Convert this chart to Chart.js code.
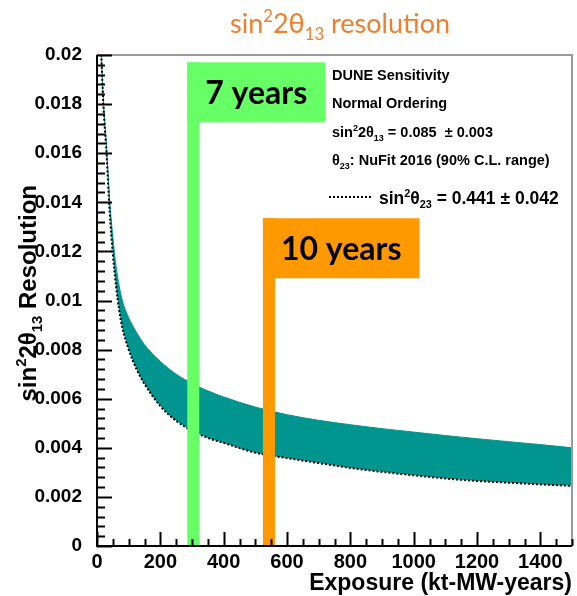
<!DOCTYPE html>
<html>
<head>
<meta charset="utf-8">
<script src="https://cdn.jsdelivr.net/npm/chart.js@4/dist/chart.umd.min.js"></script>
<style>
  html, body { margin: 0; padding: 0; background: #fff; }
  #wrap { width: 577px; height: 596px; }
</style>
</head>
<body>
<div id="wrap"><canvas id="c" width="577" height="596"></canvas></div>
<script>
// Exposure grid (kt-MW-years)
const exposure = [12, 20, 30, 40, 50, 60, 70, 80, 100, 125, 150, 200, 250, 300, 350, 400,
                  500, 600, 700, 800, 900, 1000, 1100, 1200, 1300, 1400, 1500];
// sin^2 2theta13 resolution, lower edge of the theta23 band (dotted curve)
const resLower = [0.0205, 0.0180, 0.0160, 0.0136, 0.0119, 0.0106, 0.0096, 0.0089, 0.0080, 0.0072, 0.0066,
                  0.0057, 0.0051, 0.0047, 0.0044, 0.0042, 0.0038, 0.00358, 0.00338, 0.00318, 0.00302,
                  0.00288, 0.00275, 0.00265, 0.00258, 0.00251, 0.00245];
// upper edge of the band
const resUpper = [0.0205, 0.0182, 0.0163, 0.0141, 0.0126, 0.0114, 0.0106, 0.0100, 0.0093, 0.0087, 0.0082,
                  0.00752, 0.0070, 0.00662, 0.00632, 0.00607, 0.00566, 0.00535, 0.00512, 0.00494, 0.00478,
                  0.00464, 0.0045, 0.00437, 0.00425, 0.00413, 0.0040];

// Run-time markers
const markerLabels   = ['7 years', '10 years'];
const markerExposure = [304, 543];
const markerFlagTop  = [0.0197, 0.01335];
const markerColors   = ['#66ff66', '#ff9900'];

// Legend text lines
const legendLines = [
  [{t: 'DUNE Sensitivity'}],
  [{t: 'Normal Ordering'}],
  [{t: 'sin'}, {t: '2', sup: true}, {t: '2θ'}, {t: '13', sub: true}, {t: ' = 0.085  ± 0.003'}],
  [{t: 'θ'}, {t: '23', sub: true}, {t: ': NuFit 2016 (90% C.L. range)'}]
];
const legendBand = [{t: 'sin'}, {t: '2', sup: true}, {t: 'θ'}, {t: '23', sub: true}, {t: ' = 0.441 ± 0.042'}];

const AXIS_FONT = 'Liberation Sans, Arial, sans-serif';
const FLAG_FONT = 'Lato, "Open Sans", sans-serif';
const TEAL = '#00968f';

// Draws a run of text with superscript / subscript pieces
function richWidth(ctx, parts, size, family, weight) {
  let w = 0;
  for (const p of parts) {
    const s = (p.sup || p.sub) ? size * 0.62 : size;
    ctx.font = `${weight} ${s}px ${family}`;
    w += ctx.measureText(p.t).width;
  }
  return w;
}
function drawRich(ctx, parts, x, y, size, family, weight, align) {
  const w = richWidth(ctx, parts, size, family, weight);
  let cx = align === 'center' ? x - w / 2 : align === 'right' ? x - w : x;
  ctx.textAlign = 'left';
  ctx.textBaseline = 'alphabetic';
  for (const p of parts) {
    const s = (p.sup || p.sub) ? size * 0.62 : size;
    ctx.font = `${weight} ${s}px ${family}`;
    const dy = p.sup ? -size * 0.42 : p.sub ? size * 0.25 : 0;
    ctx.fillText(p.t, cx, y + dy);
    cx += ctx.measureText(p.t).width;
  }
}

const decor = {
  id: 'decor',
  afterDatasetsDraw(chart) {
    const {ctx, scales: {x, y}, chartArea: ca} = chart;
    ctx.save();
    markerLabels.forEach((lab, i) => {
      const xc = x.getPixelForValue(markerExposure[i]);
      const top = y.getPixelForValue(markerFlagTop[i]);
      const barW = 12;
      ctx.fillStyle = markerColors[i];
      ctx.fillRect(xc - barW / 2, top, barW, ca.bottom - top);
      ctx.font = `bold 32px ${FLAG_FONT}`;
      const tw = ctx.measureText(lab).width;
      const boxW = tw + 36, boxH = 60;
      ctx.fillRect(xc - barW / 2, top, boxW, boxH);
      ctx.fillStyle = '#000';
      ctx.textAlign = 'left';
      ctx.textBaseline = 'alphabetic';
      ctx.fillText(lab, xc - barW / 2 + 18, top + 42);
    });
    ctx.restore();
  },
  afterDraw(chart) {
    const {ctx, scales: {x, y}, chartArea: ca} = chart;
    ctx.save();
    // frame
    ctx.strokeStyle = '#9a9a9a';
    ctx.lineWidth = 2;
    ctx.beginPath();
    ctx.moveTo(ca.left, ca.top); ctx.lineTo(ca.right, ca.top); ctx.lineTo(ca.right, ca.bottom);
    ctx.stroke();
    ctx.strokeStyle = '#000';
    ctx.lineWidth = 2;
    ctx.beginPath();
    ctx.moveTo(ca.left, ca.top); ctx.lineTo(ca.left, ca.bottom); ctx.lineTo(ca.right, ca.bottom);
    ctx.stroke();
    // inward ticks, y axis
    ctx.beginPath();
    for (let k = 0; k <= 50; k++) {
      const py = Math.round(y.getPixelForValue(k * 0.0004)) + 0.5;
      const len = (k % 5 === 0) ? 15 : 8;
      ctx.moveTo(ca.left, py); ctx.lineTo(ca.left + len, py);
    }
    // inward ticks, x axis
    for (let k = 0; k <= 30; k++) {
      const px = Math.round(x.getPixelForValue(k * 50)) + 0.5;
      const len = (k % 4 === 0) ? 14 : 7;
      ctx.moveTo(px, ca.bottom); ctx.lineTo(px, ca.bottom - len);
    }
    ctx.stroke();

    // axis titles
    ctx.fillStyle = '#000';
    ctx.font = `bold 23px ${AXIS_FONT}`;
    ctx.textAlign = 'right';
    ctx.textBaseline = 'alphabetic';
    ctx.fillText('Exposure (kt-MW-years)', ca.right, 590);

    ctx.save();
    ctx.translate(36, 185);
    ctx.rotate(-Math.PI / 2);
    drawRich(ctx, [{t: 'sin'}, {t: '2', sup: true}, {t: '2θ'}, {t: '13', sub: true}, {t: ' Resolution'}],
             0, 0, 24, AXIS_FONT, 'bold', 'right');
    ctx.restore();

    // title
    ctx.fillStyle = '#f07f2c';
    drawRich(ctx, [{t: 'sin'}, {t: '2', sup: true}, {t: '2θ'}, {t: '13', sub: true}, {t: ' resolution'}],
             340, 33, 27, FLAG_FONT, 'normal', 'center');

    // legend
    ctx.fillStyle = '#000';
    const ly = [80, 108, 137, 165];
    legendLines.forEach((parts, i) => drawRich(ctx, parts, 332, ly[i], 14.5, AXIS_FONT, 'bold', 'left'));
    ctx.strokeStyle = '#000';
    ctx.lineWidth = 2;
    ctx.setLineDash([2, 2]);
    ctx.beginPath();
    ctx.moveTo(329, 197); ctx.lineTo(372, 197);
    ctx.stroke();
    ctx.setLineDash([]);
    drawRich(ctx, legendBand, 379, 204, 17.5, AXIS_FONT, 'bold', 'left');
    ctx.restore();
  }
};

new Chart(document.getElementById('c').getContext('2d'), {
  type: 'line',
  data: {
    datasets: [
      {
        label: 'sin2theta23 = 0.441 - 0.042',
        data: exposure.map((e, i) => ({x: e, y: resLower[i]})),
        borderColor: '#000',
        borderWidth: 2,
        borderDash: [2, 2],
        pointRadius: 0,
        fill: false,
        cubicInterpolationMode: 'monotone'
      },
      {
        label: 'sin2theta23 = 0.441 + 0.042',
        data: exposure.map((e, i) => ({x: e, y: resUpper[i]})),
        borderColor: TEAL,
        borderWidth: 1,
        backgroundColor: TEAL,
        pointRadius: 0,
        fill: 0,
        cubicInterpolationMode: 'monotone'
      }
    ]
  },
  options: {
    responsive: false,
    animation: false,
    devicePixelRatio: 1,
    layout: {padding: {top: 55, right: 5, left: 0, bottom: 0}},
    plugins: {legend: {display: false}, tooltip: {enabled: false}, title: {display: false}},
    scales: {
      x: {
        type: 'linear', min: 0, max: 1500,
        afterFit(s) { s.height = 50; },
        grid: {display: false}, border: {display: false},
        ticks: {stepSize: 200, includeBounds: false, padding: -4, maxRotation: 0, autoSkip: false,
                font: {family: AXIS_FONT, size: 20, weight: 'bold'}, color: '#000',
                callback: v => String(v)}
      },
      y: {
        type: 'linear', min: 0, max: 0.02,
        afterFit(s) { s.width = 97; },
        grid: {display: false}, border: {display: false},
        ticks: {stepSize: 0.002, includeBounds: false, padding: 7, autoSkip: false,
                font: {family: AXIS_FONT, size: 19, weight: 'bold'}, color: '#000',
                callback: v => String(+v.toFixed(4))}
      }
    }
  },
  plugins: [decor]
});
</script>
</body>
</html>
